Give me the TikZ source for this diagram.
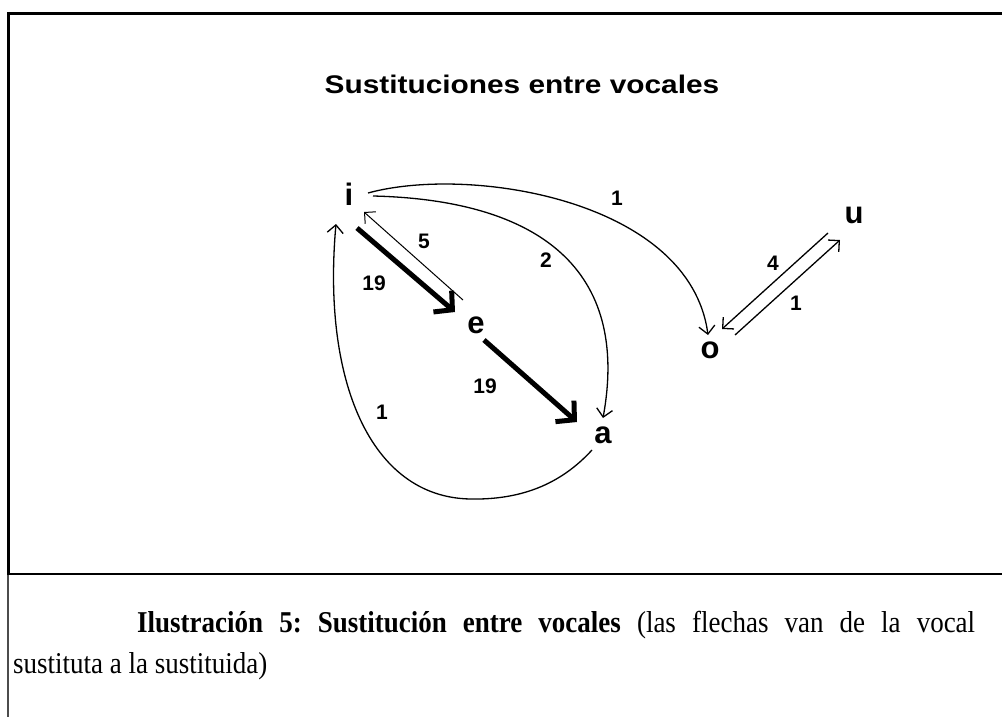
\documentclass[tikz,border=0pt]{standalone}
\usepackage{fontspec}
\setmainfont{Liberation Serif}
\newfontfamily\diagfont{Liberation Sans}
\newfontfamily\titlefont[FakeStretch=1.17]{Liberation Sans}
\usetikzlibrary{arrows.meta,calc}
\frenchspacing
\begin{document}
\begin{tikzpicture}[x=1pt,y=-1pt,
  letter/.style={font=\diagfont\bfseries\fontsize{31}{31}\selectfont, inner sep=0pt},
  num/.style={font=\diagfont\bfseries\fontsize{21}{21}\selectfont, inner sep=0pt},
  thinarrow/.style={line width=1.3pt, -{Straight Barb[length=8pt,width=16pt]}},
  thickarrow/.style={line width=5pt, -{Straight Barb[length=13pt,width=28pt]}},
  captext/.style={anchor=base west, inner sep=0pt, font=\fontsize{27}{27}\selectfont}
]
\useasboundingbox (0,0) rectangle (1002,717);
% frame
\draw[line width=3pt] (7,13.5) -- (1002,13.5);
\draw[line width=3pt] (8.3,12) -- (8.3,574);
\draw[line width=2pt, black!70] (7.7,574) -- (7.7,717);
\draw[line width=2pt] (7,574) -- (1002,574);
% title
\node[font=\titlefont\bfseries\fontsize{25.5}{25.5}\selectfont, anchor=base, inner sep=0pt] (title) at (522,93) {Sustituciones entre vocales};
% vowels
\node[letter] (i) at (349,194) {i};
\node[letter] (e) at (476,325) {e};
\node[letter] (a) at (603,435) {a};
\node[letter] (o) at (710,350) {o};
\node[letter] (u) at (854,215) {u};
% connectors
\draw[thickarrow] ([shift={(8,34)}]i.center) -- ([shift={(-21,-13)}]e.center);
\draw[thinarrow, line width=1pt] ([shift={(-13,-25)}]e.center) -- ([shift={(15,18)}]i.center);
\draw[thickarrow] ([shift={(8,15)}]e.center) -- ([shift={(-26,-13)}]a.center);
\draw[thinarrow] ([shift={(24,2)}]i.center) .. controls (540,200) and (630,270) .. ([shift={(0,-17)}]a.center);
\draw[thinarrow] ([shift={(19,-1)}]i.center) .. controls (470,165) and (690,200) .. ([shift={(-2,-15)}]o.center);
\draw[thinarrow] ([shift={(-11,15)}]a.center) .. controls (560,485) and (520,500) .. (470,499) .. controls (370,497) and (322,380) .. ([shift={(-13,30)}]i.center);
\draw[thinarrow] ([shift={(25,-15)}]o.center) -- ([shift={(-14,25)}]u.center);
\draw[thinarrow] ([shift={(-26,18)}]u.center) -- ([shift={(12,-21)}]o.center);
% labels
\node[num] (l19a) at (374,283) {19};
\node[num] (l5) at (424,241) {5};
\node[num] (l2) at (546,260) {2};
\node[num] (l1io) at (617,198) {1};
\node[num] (l19b) at (485,386) {19};
\node[num] (l1ai) at (382,412) {1};
\node[num] (l4) at (773,263) {4};
\node[num] (l1ou) at (796,303) {1};
% caption
\node[captext] (cap1) at (137,632) {\scalebox{1}[1.12]{\makebox[838pt][s]{\textbf{Ilustración 5: Sustitución entre vocales} (las flechas van de la vocal}}};
\node[captext] (cap2) at (13,673) {\scalebox{1}[1.12]{sustituta a la sustituida)}};
\end{tikzpicture}
\end{document}
